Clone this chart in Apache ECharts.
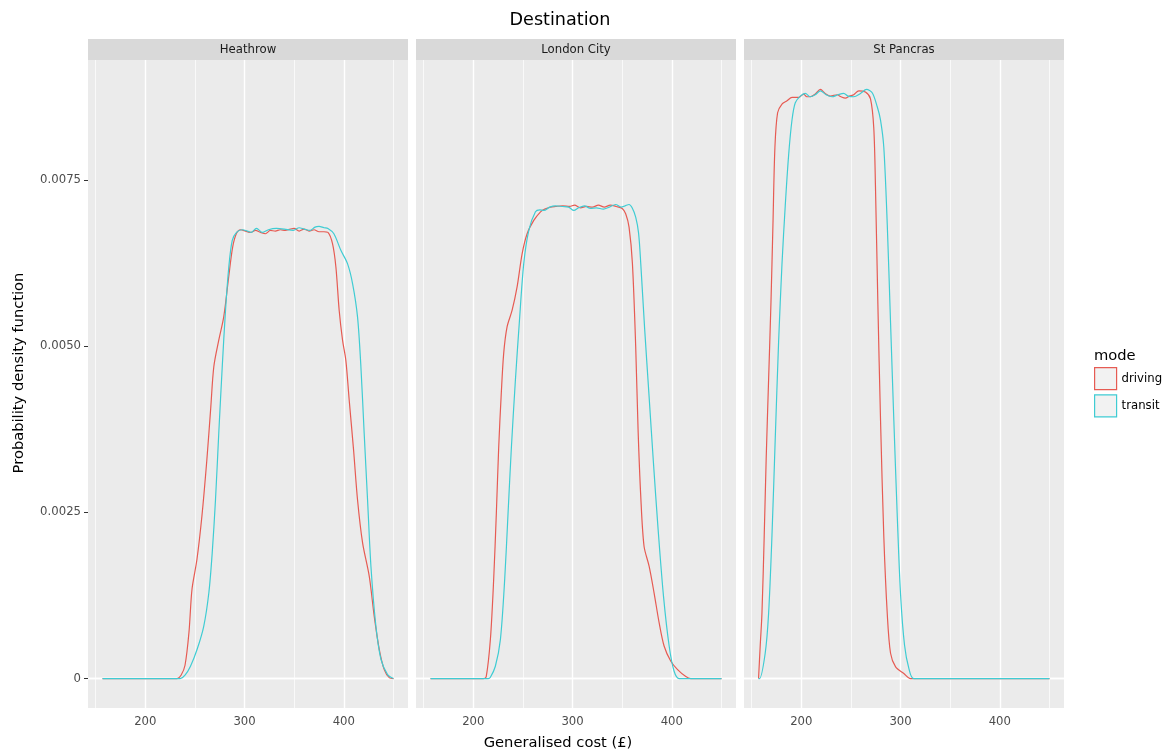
<!DOCTYPE html>
<html>
<head>
<meta charset="utf-8">
<script src="https://cdn.jsdelivr.net/npm/echarts@6/dist/echarts.min.js"></script>
<style>
  html, body { margin: 0; padding: 0; background: #ffffff; }
  #chart { width: 1168px; height: 754px; }
</style>
</head>
<body>
<div id="chart"></div>
<script>
// Facets and legend groups
const destinations = ['Heathrow', 'London City', 'St Pancras'];
const modes = ['driving', 'transit'];

// Kernel density estimates of generalised cost, [cost (£), density]
const heathrowDriving = [
  [156.9, 0], [232, 0], [236, 0.00005], [240, 0.0002], [244, 0.0007], [247, 0.00134], [252, 0.00179],
  [257, 0.00244], [262, 0.00329], [266, 0.00409], [269, 0.00469], [274, 0.00509], [279, 0.00544],
  [284, 0.00604], [288, 0.00649], [292, 0.0067], [296, 0.00675], [301, 0.00673], [306, 0.00671],
  [311, 0.00674], [316, 0.00671], [321, 0.00669], [326, 0.00674], [331, 0.00673], [336, 0.00675],
  [341, 0.00674], [346, 0.00676], [350, 0.00677], [355, 0.00673], [360, 0.00676], [365, 0.00673],
  [370, 0.00675], [375, 0.00672], [380, 0.00672], [384, 0.00671], [388.6, 0.00654], [392, 0.00619],
  [395.3, 0.00554], [398.7, 0.00509], [402, 0.00479], [405.4, 0.00419], [409.8, 0.00344],
  [413.8, 0.00269], [418.9, 0.00204], [425.6, 0.00154], [430.6, 0.00094], [435.7, 0.00044],
  [440.7, 0.000135], [446, 0.00001], [450, 0]
];
const heathrowTransit = [
  [156.9, 0], [235, 0], [240, 0.00005], [245.5, 0.000185], [252.2, 0.00044], [258.9, 0.00079],
  [264, 0.00129], [267.4, 0.00189], [270.7, 0.00269], [274, 0.00369], [277.5, 0.00469],
  [280.8, 0.00554], [284.1, 0.00619], [287.6, 0.00659], [291.9, 0.00671], [297.7, 0.00675],
  [303, 0.00673], [306.5, 0.00671], [312, 0.00677], [318, 0.00671], [324, 0.00675], [332, 0.00677],
  [340, 0.00676], [349, 0.00674], [355, 0.00678], [360, 0.00676], [366, 0.00674], [371, 0.00679],
  [375, 0.0068], [380, 0.00678], [384, 0.00677], [390, 0.00669], [397, 0.00644], [403.7, 0.00624],
  [408.8, 0.00594], [413.8, 0.00544], [417.2, 0.00469], [420.5, 0.00369], [423.9, 0.00269],
  [427.3, 0.00169], [432.3, 0.00079], [437.4, 0.00029], [444.1, 0.00006], [450, 0]
];
const londonCityDriving = [
  [156.9, 0], [210, 0], [213, 0.00003], [217.2, 0.00059], [220.5, 0.00149], [223.2, 0.00249],
  [225.6, 0.00349], [228, 0.00424], [230.6, 0.00489], [234, 0.00529], [239.1, 0.00554],
  [244.1, 0.00589], [249.2, 0.00639], [254.2, 0.00669], [260.9, 0.00689], [267.7, 0.00702],
  [272, 0.00706], [277.8, 0.00709], [283, 0.0071], [290, 0.00711], [297, 0.0071], [302, 0.00712],
  [308, 0.00708], [314, 0.0071], [320, 0.00709], [326, 0.00712], [332, 0.00709], [338, 0.00712],
  [344, 0.0071], [350, 0.00707], [353.5, 0.00699], [356.9, 0.00679], [360.3, 0.00624],
  [363.6, 0.00499], [366, 0.00374], [368.7, 0.00274], [372, 0.00199], [377.1, 0.00169],
  [382.1, 0.00129], [387.2, 0.00084], [392.2, 0.00049], [399, 0.00026], [405.8, 0.000135],
  [414.1, 0.00003], [419, 0], [450, 0]
];
const londonCityTransit = [
  [156.9, 0], [215, 0], [217.2, 0.00002], [222.2, 0.000185], [227.3, 0.00059], [231.6, 0.00149],
  [235, 0.00249], [238.4, 0.00349], [242.4, 0.00449], [246.5, 0.00539], [250.8, 0.00624],
  [255.9, 0.00674], [262.6, 0.00702], [267, 0.00705], [271, 0.00704], [277, 0.00709],
  [282.8, 0.00711], [290, 0.0071], [296, 0.00709], [301.3, 0.00704], [306, 0.00708], [312, 0.00711],
  [318, 0.00707], [324, 0.00708], [331, 0.00706], [337, 0.00709], [343.4, 0.00713], [349, 0.00709],
  [353, 0.00711], [356.9, 0.00713], [360, 0.00708], [363.6, 0.00694], [366.5, 0.0067],
  [368.7, 0.00624], [372.7, 0.00524], [377.1, 0.00424], [381.5, 0.00324], [386.2, 0.00224],
  [391.6, 0.00124], [397.3, 0.00049], [402.3, 0.00011], [407.4, 0], [450, 0]
];
const stPancrasDriving = [
  [156.9, 0], [158.6, 0.0005], [160.3, 0.00097], [162.6, 0.00214], [164.6, 0.00331], [167, 0.00448],
  [169.4, 0.00565], [171.4, 0.00682], [173.4, 0.00799], [176.1, 0.00851], [180.5, 0.00864],
  [185.6, 0.00869], [190.6, 0.00874], [197.3, 0.00874], [202.4, 0.00879], [205.5, 0.00875],
  [209.1, 0.00875], [214, 0.00879], [219.2, 0.00886], [224, 0.0088], [229.3, 0.00876],
  [236.1, 0.00878], [240, 0.00875], [244.4, 0.00873], [248.5, 0.00876], [252.8, 0.00878],
  [257.9, 0.00884], [264.6, 0.00882], [269.7, 0.00872], [273, 0.00828], [274.7, 0.0074],
  [277.1, 0.00565], [279.8, 0.00389], [283.1, 0.00214], [286.6, 0.00097], [289.9, 0.00038],
  [295, 0.000176], [303.3, 0.000076], [310.1, 0], [450, 0]
];
const stPancrasTransit = [
  [156.9, 0], [157.9, 0], [163.6, 0.00038], [167, 0.00097], [170.4, 0.00214], [173.7, 0.0036],
  [177.1, 0.00506], [180.5, 0.00623], [183.8, 0.00711], [187.2, 0.00787], [190.6, 0.0084],
  [193.9, 0.00866], [199, 0.00876], [204, 0.0088], [209.1, 0.00875], [214, 0.00878],
  [219.2, 0.00884], [225, 0.00878], [231, 0.00875], [237, 0.00878], [242.7, 0.0088], [247, 0.00876],
  [252.8, 0.00875], [259.6, 0.0088], [265.7, 0.00886], [271.4, 0.00881], [276.5, 0.0086],
  [279.8, 0.0084], [283.1, 0.00799], [286.6, 0.00682], [289.9, 0.00535], [293.2, 0.00389],
  [296.7, 0.00243], [300, 0.00126], [304, 0.0005], [308.4, 0.00015], [313.4, 0], [450, 0]
];

// Tick labels and grid positions
const xTicks = [200, 300, 400];
const xMinorTicks = [150, 250, 350, 450];
const yTicks = [0, 0.0025, 0.005, 0.0075];
const yMinorTicks = [0.00125, 0.00375, 0.00625, 0.00875];

const seriesByPanel = [
  [heathrowDriving, heathrowTransit],
  [londonCityDriving, londonCityTransit],
  [stPancrasDriving, stPancrasTransit]
];

// ---- layout / styling ----
const FONT = 'DejaVu Sans';
const modeColors = { driving: '#E65B53', transit: '#3FCCD3' };
const panelLeft = [88, 416, 744];
const panelWidth = 320;
const panelTop = 60;
const panelHeight = 648;
const stripHeight = 21;

// Shared scale with 5% padding on each side of the data range
const allPts = seriesByPanel.flat(2);
const xs = allPts.map(p => p[0]);
const ys = allPts.map(p => p[1]);
const xLo = Math.min(...xs), xHi = Math.max(...xs);
const yLo = Math.min(0, ...ys), yHi = Math.max(...ys);
const xPad = 0.05 * (xHi - xLo), yPad = 0.05 * (yHi - yLo);
const xRange = [xLo - xPad, xHi + xPad];
const yRange = [yLo - yPad, yHi + yPad];

function gridLineSeries(i) {
  const lines = [];
  xMinorTicks.forEach(v => lines.push({ xAxis: v, lineStyle: { width: 0.7 } }));
  yMinorTicks.forEach(v => lines.push({ yAxis: v, lineStyle: { width: 0.7 } }));
  xTicks.forEach(v => lines.push({ xAxis: v, lineStyle: { width: 1.4 } }));
  yTicks.forEach(v => lines.push({ yAxis: v, lineStyle: { width: 1.4 } }));
  return {
    type: 'line', name: 'grid-' + i, xAxisIndex: i, yAxisIndex: i, data: [],
    silent: true, z: 1, animation: false,
    markLine: {
      silent: true, z: 1, animation: false, symbol: ['none', 'none'],
      label: { show: false }, emphasis: { disabled: true },
      lineStyle: { color: '#ffffff', type: 'solid' },
      data: lines
    }
  };
}

const grids = destinations.map((d, i) => ({
  left: panelLeft[i], top: panelTop, width: panelWidth, height: panelHeight,
  show: true, backgroundColor: '#EBEBEB', borderWidth: 0
}));

const xAxes = destinations.map((d, i) => ({
  type: 'value', gridIndex: i, min: xRange[0], max: xRange[1],
  axisLine: { show: false }, splitLine: { show: false },
  axisTick: { show: true, customValues: xTicks, length: 4, lineStyle: { color: '#333333', width: 1 } },
  axisLabel: { customValues: xTicks, color: '#4D4D4D', fontSize: 11.7, margin: 8, fontFamily: FONT }
}));

const yAxes = destinations.map((d, i) => ({
  type: 'value', gridIndex: i, min: yRange[0], max: yRange[1],
  axisLine: { show: false }, splitLine: { show: false },
  axisTick: { show: i === 0, customValues: yTicks, length: 4, lineStyle: { color: '#333333', width: 1 } },
  axisLabel: {
    show: i === 0, customValues: yTicks, color: '#4D4D4D', fontSize: 11.7, margin: 7, fontFamily: FONT,
    formatter: v => (v === 0 ? '0' : v.toFixed(4))
  }
}));

const series = [];
destinations.forEach((d, i) => {
  series.push(gridLineSeries(i));
  modes.forEach((m, j) => {
    series.push({
      type: 'line', name: m, xAxisIndex: i, yAxisIndex: i,
      data: seriesByPanel[i][j],
      showSymbol: false, smooth: 0.3,
      lineStyle: { color: modeColors[m], width: 1.2 },
      itemStyle: { color: modeColors[m] },
      z: 3 + j, animation: false,
      emphasis: { disabled: true }
    });
  });
});

const graphics = [];
destinations.forEach((d, i) => {
  graphics.push({
    type: 'rect', shape: { x: panelLeft[i], y: panelTop - stripHeight, width: panelWidth, height: stripHeight },
    style: { fill: '#D9D9D9' }, silent: true
  });
  graphics.push({
    type: 'text', x: panelLeft[i] + panelWidth / 2, y: panelTop - stripHeight / 2,
    style: { text: d, fill: '#1A1A1A', font: '11.7px "' + FONT + '"', textAlign: 'center', textVerticalAlign: 'middle' },
    silent: true
  });
});
graphics.push({
  type: 'text', x: 560, y: 20,
  style: { text: 'Destination', fill: '#000000', font: '17.6px "' + FONT + '"', textAlign: 'center', textVerticalAlign: 'middle' }
});
graphics.push({
  type: 'text', x: 558, y: 743,
  style: { text: 'Generalised cost (£)', fill: '#000000', font: '14.7px "' + FONT + '"', textAlign: 'center', textVerticalAlign: 'middle' }
});
graphics.push({
  type: 'text', x: 19, y: 373, rotation: Math.PI / 2,
  style: { text: 'Probability density function', fill: '#000000', font: '14.7px "' + FONT + '"', textAlign: 'center', textVerticalAlign: 'middle' }
});
graphics.push({
  type: 'text', x: 1094, y: 356,
  style: { text: 'mode', fill: '#000000', font: '14.7px "' + FONT + '"', textAlign: 'left', textVerticalAlign: 'middle' }
});

const chart = echarts.init(document.getElementById('chart'), null, { renderer: 'canvas' });
chart.setOption({
  animation: false,
  backgroundColor: '#ffffff',
  textStyle: { fontFamily: FONT },
  grid: grids,
  xAxis: xAxes,
  yAxis: yAxes,
  legend: {
    left: 1094, top: 367, orient: 'vertical', icon: 'rect', padding: 0,
    itemWidth: 22, itemHeight: 22, itemGap: 4,
    textStyle: { color: '#000000', fontSize: 11.7, fontFamily: FONT },
    data: modes.map(m => ({
      name: m, icon: 'rect',
      itemStyle: { color: '#F2F2F2', borderColor: modeColors[m], borderWidth: 1.2 }
    }))
  },
  series: series,
  graphic: graphics
});
</script>
</body>
</html>
